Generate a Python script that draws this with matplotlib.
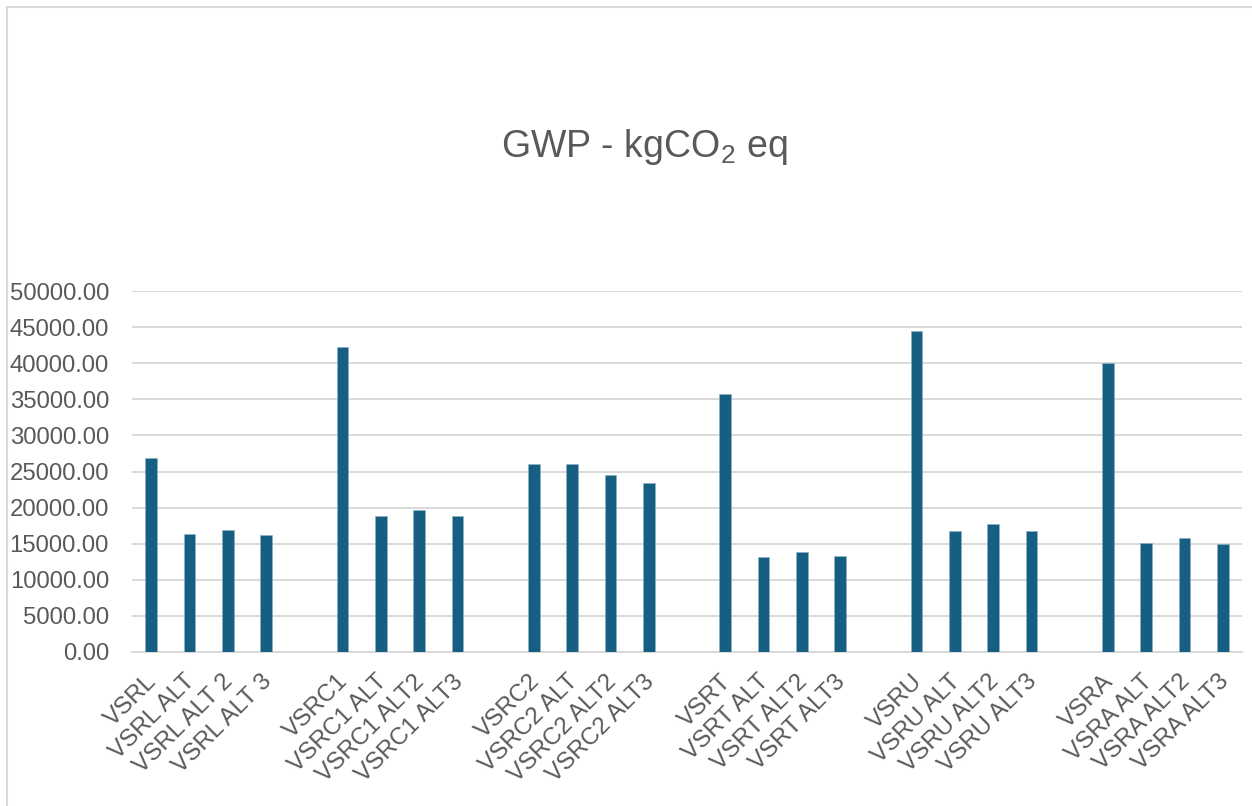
import matplotlib
matplotlib.use("Agg")
import matplotlib.pyplot as plt
from matplotlib.lines import Line2D
from matplotlib.transforms import ScaledTranslation

plt.rcParams["font.family"] = ["Liberation Sans", "DejaVu Sans"]
plt.rcParams["mathtext.fontset"] = "custom"
plt.rcParams["mathtext.rm"] = "Liberation Sans"
plt.rcParams["mathtext.it"] = "Liberation Sans"

# GWP per variant, grouped by base design
groups = ["VSRL", "VSRC1", "VSRC2", "VSRT", "VSRU", "VSRA"]
labels = [
    ["VSRL", "VSRL ALT", "VSRL ALT 2", "VSRL ALT 3"],
    ["VSRC1", "VSRC1 ALT", "VSRC1 ALT2", "VSRC1 ALT3"],
    ["VSRC2", "VSRC2 ALT", "VSRC2 ALT2", "VSRC2 ALT3"],
    ["VSRT", "VSRT ALT", "VSRT ALT2", "VSRT ALT3"],
    ["VSRU", "VSRU ALT", "VSRU ALT2", "VSRU ALT3"],
    ["VSRA", "VSRA ALT", "VSRA ALT2", "VSRA ALT3"],
]
gwp = [
    [26850, 16380, 16880, 16190],
    [42250, 18780, 19700, 18780],
    [25970, 25970, 24450, 23380],
    [35790, 13200, 13890, 13240],
    [44470, 16790, 17760, 16700],
    [39990, 15040, 15830, 14940],
]

TEXT = "#595959"
GRID = "#d9d9d9"
BAR = "#175f82"

# one blank category between groups, like the spreadsheet layout
xlabels, yvals = [], []
for i, (labs, vals) in enumerate(zip(labels, gwp)):
    if i > 0:
        xlabels.append("")
        yvals.append(0)
    xlabels.extend(labs)
    yvals.extend(vals)
xpos = list(range(len(xlabels)))

fig = plt.figure(figsize=(12.52, 8.06), dpi=100)
ax = fig.add_axes([132 / 1252, 154 / 806, 1110 / 1252, 361 / 806])

ax.bar(xpos, yvals, width=0.305, color=BAR, edgecolor="#8fb3c6", linewidth=0.4, zorder=3)

ax.set_xlim(-0.5, len(xlabels) - 0.5)
ax.set_ylim(0, 50000)
ax.set_yticks(range(0, 50001, 5000))
ax.set_yticklabels([f"{v:.2f}" for v in range(0, 50001, 5000)])
ax.yaxis.grid(True, color=GRID, linewidth=1.4, zorder=0)
ax.set_axisbelow(True)

ax.set_xticks(xpos)
ax.set_xticklabels(xlabels, rotation=45, ha="right", va="baseline", rotation_mode="anchor")

ax.tick_params(axis="y", length=0, pad=16.6, labelsize=17.2, labelcolor=TEXT)
ax.tick_params(axis="x", length=0, pad=22, labelsize=17.4, labelcolor=TEXT)

# nudge the slanted labels so their ends sit just right of each tick
shift = ScaledTranslation(6.5 / 100, 0, fig.dpi_scale_trans)
for lab in ax.get_xticklabels():
    lab.set_transform(lab.get_transform() + shift)

for side in ["top", "right", "left"]:
    ax.spines[side].set_visible(False)
ax.spines["bottom"].set_color(GRID)
ax.spines["bottom"].set_linewidth(1.4)

fig.text(644 / 1252, 1 - 147 / 806, "GWP - kgCO$_2$ eq", ha="center", va="center",
         fontsize=27, color=TEXT)

# chart area outline
fig.add_artist(Line2D([6.5 / 1252, 1], [1 - 6.5 / 806, 1 - 6.5 / 806],
                      transform=fig.transFigure, color=GRID, linewidth=1.5))
fig.add_artist(Line2D([6.5 / 1252, 6.5 / 1252], [0, 1 - 6.5 / 806],
                      transform=fig.transFigure, color=GRID, linewidth=1.5))

fig.savefig("out.png", dpi=100)
